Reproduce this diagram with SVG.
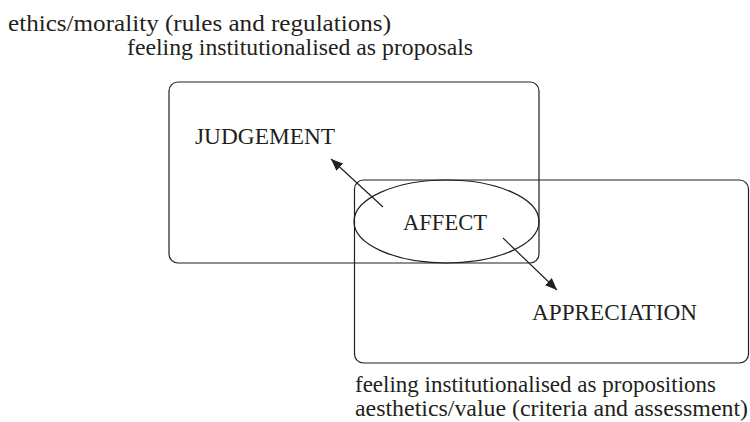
<svg xmlns="http://www.w3.org/2000/svg" width="750" height="422" viewBox="0 0 750 422">
<style>
  .lbl { font-family: "Liberation Serif", "DejaVu Serif", serif; font-size: 23px; fill: #231f20; }
  .shape { fill: none; stroke: #231f20; stroke-width: 1.2; }
  .conn { fill: none; stroke: #231f20; stroke-width: 1.2; }
</style>
<defs>
  <marker id="arrow" viewBox="0 0 12 10" refX="12" refY="5" markerWidth="12" markerHeight="10" markerUnits="userSpaceOnUse" orient="auto">
    <path d="M0,0 L12,5 L0,10 Z" fill="#231f20"/>
  </marker>
</defs>
<rect width="750" height="422" fill="#ffffff"/>
<g id="captions-top">
  <text class="lbl" x="8" y="31" textLength="383" lengthAdjust="spacingAndGlyphs">ethics/morality (rules and regulations)</text>
  <text class="lbl" x="127" y="55" textLength="346" lengthAdjust="spacingAndGlyphs">feeling institutionalised as proposals</text>
</g>
<g id="judgement">
  <rect class="shape" x="169" y="82" width="370" height="181" rx="9" ry="9"/>
  <text class="lbl" x="195" y="144" textLength="140" lengthAdjust="spacingAndGlyphs">JUDGEMENT</text>
</g>
<g id="appreciation">
  <rect class="shape" x="354.5" y="180" width="394" height="183" rx="9" ry="9"/>
  <text class="lbl" x="532" y="320" textLength="165" lengthAdjust="spacingAndGlyphs">APPRECIATION</text>
</g>
<g id="affect">
  <ellipse class="shape" cx="446.5" cy="221.5" rx="92.5" ry="41.5"/>
  <text class="lbl" x="403" y="230" textLength="84" lengthAdjust="spacingAndGlyphs">AFFECT</text>
</g>
<g id="connectors">
  <line class="conn" x1="383" y1="207" x2="331" y2="159" marker-end="url(#arrow)"/>
  <line class="conn" x1="503" y1="238" x2="557" y2="290" marker-end="url(#arrow)"/>
</g>
<g id="captions-bottom">
  <text class="lbl" x="355" y="392" textLength="361" lengthAdjust="spacingAndGlyphs">feeling institutionalised as propositions</text>
  <text class="lbl" x="355" y="416" textLength="393" lengthAdjust="spacingAndGlyphs">aesthetics/value (criteria and assessment)</text>
</g>
</svg>
